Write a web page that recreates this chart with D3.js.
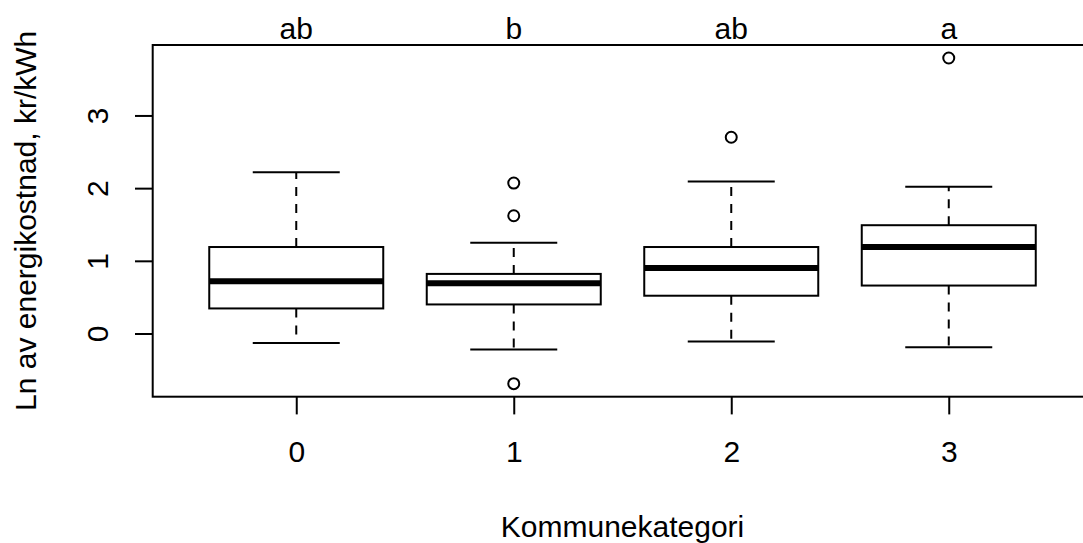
<!DOCTYPE html>
<html>
<head>
<meta charset="utf-8">
<script src="https://cdn.jsdelivr.net/npm/d3@7"></script>
<style>
  html, body { margin: 0; padding: 0; background: #fff; }
  svg { display: block; }
  text { font-family: "Liberation Sans", Arial, sans-serif; fill: #000; }
</style>
</head>
<body>
<svg id="chart" width="1083" height="543"></svg>
<script>
// Box statistics per municipality category (log energy cost, kr/kWh)
const categories = ["0", "1", "2", "3"];
const whiskerLow = [-0.13, -0.22, -0.11, -0.19];
const quartile1  = [0.345, 0.40, 0.52, 0.66];
const medians    = [0.72, 0.69, 0.90, 1.19];
const quartile3  = [1.19, 0.82, 1.19, 1.49];
const whiskerHigh = [2.22, 1.25, 2.09, 2.02];
const outliers   = [[], [2.07, 1.62, -0.69], [2.70], [3.79]];
const groupLetters = ["ab", "b", "ab", "a"];
const yTicks = [0, 1, 2, 3];

const svg = d3.select("#chart");
const W = 1083, H = 543;
const FONT = 30;

// Plot region (right edge lies just past the canvas)
const plotLeft = 152.7, plotRight = 1092.3, plotTop = 45, plotBottom = 396.7;

const n = categories.length;
const x = d3.scaleLinear()
  .domain([0.5 - 0.04 * n, n + 0.5 + 0.04 * n])
  .range([plotLeft, plotRight]);

const allVals = whiskerLow.concat(whiskerHigh, outliers.flat());
const yMin = d3.min(allVals), yMax = d3.max(allVals);
const pad = (yMax - yMin) * 0.04;
const y = d3.scaleLinear()
  .domain([yMin - pad, yMax + pad])
  .range([plotBottom, plotTop]);

svg.append("rect").attr("width", W).attr("height", H).attr("fill", "#fff");

const boxHalf = 0.4, capHalf = 0.2;
const g = svg.append("g").attr("stroke", "#000").attr("fill", "none");

categories.forEach((c, i) => {
  const p = i + 1;
  const cx = x(p);
  // dashed whiskers
  g.append("line").attr("x1", cx).attr("x2", cx)
    .attr("y1", y(quartile3[i])).attr("y2", y(whiskerHigh[i]))
    .attr("stroke-width", 2).attr("stroke-dasharray", "9,8");
  g.append("line").attr("x1", cx).attr("x2", cx)
    .attr("y1", y(quartile1[i])).attr("y2", y(whiskerLow[i]))
    .attr("stroke-width", 2).attr("stroke-dasharray", "9,8");
  // whisker caps
  [whiskerHigh[i], whiskerLow[i]].forEach(v => {
    g.append("line")
      .attr("x1", x(p - capHalf)).attr("x2", x(p + capHalf))
      .attr("y1", y(v)).attr("y2", y(v))
      .attr("stroke-width", 2);
  });
  // box
  g.append("rect")
    .attr("x", x(p - boxHalf)).attr("width", x(p + boxHalf) - x(p - boxHalf))
    .attr("y", y(quartile3[i])).attr("height", y(quartile1[i]) - y(quartile3[i]))
    .attr("fill", "#fff").attr("stroke-width", 2);
  // median
  g.append("line")
    .attr("x1", x(p - boxHalf)).attr("x2", x(p + boxHalf))
    .attr("y1", y(medians[i])).attr("y2", y(medians[i]))
    .attr("stroke-width", 6);
  // outliers
  outliers[i].forEach(v => {
    g.append("circle").attr("cx", cx).attr("cy", y(v)).attr("r", 5.5)
      .attr("stroke-width", 2);
  });
});

// frame
svg.append("rect")
  .attr("x", plotLeft).attr("y", plotTop)
  .attr("width", plotRight - plotLeft).attr("height", plotBottom - plotTop)
  .attr("fill", "none").attr("stroke", "#000").attr("stroke-width", 2);

// y axis
const yAxis = svg.append("g")
  .attr("transform", `translate(${plotLeft},0)`)
  .call(d3.axisLeft(y).tickValues(yTicks).tickSize(17.7).tickSizeOuter(0).tickFormat(d3.format("d")));
yAxis.select(".domain").remove();
yAxis.selectAll(".tick line").attr("stroke", "#000").attr("stroke-width", 2);
yAxis.selectAll(".tick text")
  .attr("font-size", FONT)
  .attr("text-anchor", "middle")
  .attr("x", null).attr("dy", null)
  .attr("transform", `translate(${108 - plotLeft},0) rotate(-90)`);

// x axis
const xAxis = svg.append("g")
  .attr("transform", `translate(0,${plotBottom})`)
  .call(d3.axisBottom(x).tickValues(d3.range(1, n + 1)).tickSize(17.7).tickSizeOuter(0)
    .tickFormat((d, i) => categories[i]));
xAxis.select(".domain").remove();
xAxis.selectAll(".tick line").attr("stroke", "#000").attr("stroke-width", 2);
xAxis.selectAll(".tick text")
  .attr("font-size", FONT)
  .attr("dy", null)
  .attr("y", 461.7 - plotBottom);

// significance letters above each group
svg.append("g").selectAll("text")
  .data(groupLetters)
  .join("text")
  .attr("x", (d, i) => x(i + 1))
  .attr("y", 38.7)
  .attr("text-anchor", "middle")
  .attr("font-size", FONT)
  .text(d => d);

// axis titles
svg.append("text")
  .attr("x", (plotLeft + plotRight) / 2).attr("y", 536.7)
  .attr("text-anchor", "middle").attr("font-size", FONT)
  .text("Kommunekategori");

svg.append("text")
  .attr("transform", `translate(36,${(plotTop + plotBottom) / 2}) rotate(-90)`)
  .attr("text-anchor", "middle").attr("font-size", FONT)
  .text("Ln av energikostnad, kr/kWh");
</script>
</body>
</html>
